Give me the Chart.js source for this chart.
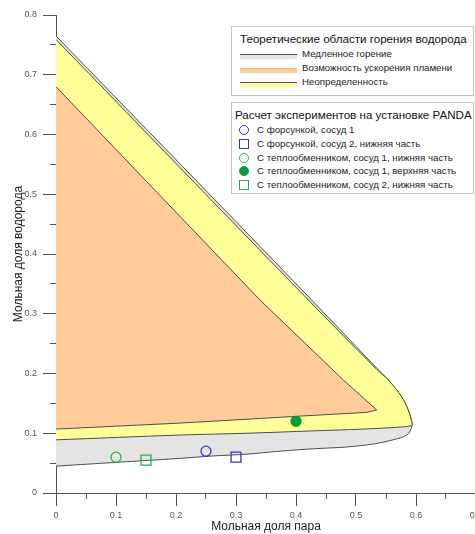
<!DOCTYPE html>
<html>
<head>
<meta charset="utf-8">
<script src="https://cdn.jsdelivr.net/npm/chart.js@4.4.1/dist/chart.umd.min.js"></script>
<style>
  html, body { margin: 0; padding: 0; background: #fff; }
  #wrap { position: relative; width: 475px; height: 534px; overflow: hidden; font-family: "Liberation Sans", Arial, sans-serif; }
  #plot { position: absolute; left: 0; top: 0; }
  .lg { position: absolute; left: 231px; width: 243px; background: #fff; border: 1px solid #c4c4c4; box-sizing: border-box; }
  #lg1 { top: 26px; height: 70px; }
  #lg2 { top: 102px; height: 92px; }
  .lg .t { position: absolute; white-space: nowrap; font-size: 11.6px; line-height: 14px; color: #111; }
  .lg .i { position: absolute; white-space: nowrap; font-size: 9.7px; line-height: 12px; color: #222; }
  .lg .sw { position: absolute; left: 8px; width: 57px; height: 5px; box-sizing: border-box; }
  .lg .mk { position: absolute; left: 7px; width: 10px; height: 10px; box-sizing: border-box; border: 1.3px solid; }
</style>
</head>
<body>
<div id="wrap">
  <canvas id="plot" width="480" height="534"></canvas>
  <div class="lg" id="lg1"></div>
  <div class="lg" id="lg2"></div>
</div>
<script>
// Outer boundary of the slow-burning zone (upper edge, round tip, lower edge)
const slowX = [0, 0.407, 0.5345, 0.554, 0.576, 0.587, 0.593, 0.592, 0.5845, 0.562, 0.529, 0.4845, 0.429, 0.373, 0.318, 0.262, 0.207, 0];
const slowY = [0.765, 0.343, 0.209, 0.189, 0.161, 0.139, 0.119, 0.108, 0.097, 0.089, 0.082, 0.077, 0.074, 0.070, 0.065, 0.062, 0.058, 0.045];

// Uncertainty band
const uncertX = [0, 0.407, 0.5345, 0.554, 0.576, 0.587, 0.593, 0.5925, 0.568, 0.512, 0.429, 0.318, 0.207, 0];
const uncertY = [0.759, 0.337, 0.207, 0.189, 0.161, 0.139, 0.119, 0.113, 0.110, 0.107, 0.104, 0.100, 0.097, 0.089];

// Flame acceleration zone
const accelX = [0, 0.157, 0.34, 0.479, 0.5345, 0.518, 0.395, 0.207, 0];
const accelY = [0.680, 0.515, 0.323, 0.189, 0.139, 0.135, 0.128, 0.117, 0.107];

const zoneTitle = 'Теоретические области горения водорода';
const zoneLabels = ['Медленное горение', 'Возможность ускорения пламени', 'Неопределенность'];

// PANDA experiment calculations
const expTitle = 'Расчет экспериментов на установке PANDA';
const expLabels = [
  'С форсункой, сосуд 1',
  'С форсункой, сосуд 2, нижняя часть',
  'С теплообменником, сосуд 1, нижняя часть',
  'С теплообменником, сосуд 1, верхняя часть',
  'С теплообменником, сосуд 2, нижняя часть'
];
const expSteam = [0.25, 0.30, 0.10, 0.40, 0.15];
const expH2 = [0.07, 0.06, 0.06, 0.12, 0.055];

const axisTitleX = 'Мольная доля пара';
const axisTitleY = 'Мольная доля водорода';

// ---- styles ----
const zoneFill = ['#e4e4e4', '#ffcc99', '#ffff99'];
const zoneEdge = '#4d4d4d';
const expStyle = [
  { shape: 'circle', r: 5, color: '#3434e6', filled: false },
  { shape: 'rect', r: 7, color: '#3434e6', filled: false },
  { shape: 'circle', r: 5, color: '#33b34f', filled: false },
  { shape: 'circle', r: 5, color: '#0c9a3a', filled: true },
  { shape: 'rect', r: 7, color: '#2aa84a', filled: false }
];

const toPts = (xs, ys) => xs.map((x, i) => ({ x, y: ys[i] }));

function zoneDataset(xs, ys, fill, order, tension) {
  return {
    data: toPts(xs, ys),
    showLine: true,
    fill: 'shape',
    backgroundColor: fill,
    borderColor: zoneEdge,
    borderWidth: 1,
    pointRadius: 0,
    pointHoverRadius: 0,
    tension,
    order
  };
}

const datasets = [
  zoneDataset(slowX, slowY, zoneFill[0], 3, 0.35),
  zoneDataset(uncertX, uncertY, zoneFill[2], 2, 0.35),
  zoneDataset(accelX, accelY, zoneFill[1], 1, 0)
];
expLabels.forEach((label, i) => {
  const s = expStyle[i];
  datasets.push({
    label,
    data: [{ x: expSteam[i], y: expH2[i] }],
    showLine: false,
    pointStyle: s.shape,
    pointRadius: s.r,
    pointHoverRadius: s.r,
    pointBorderWidth: 1.3,
    pointBorderColor: s.color,
    pointBackgroundColor: s.filled ? s.color : 'rgba(0,0,0,0)',
    order: 0
  });
});

const tickFont = { family: 'Liberation Sans', size: 9 };
const titleFont = { family: 'Liberation Sans', size: 12 };

new Chart(document.getElementById('plot'), {
  type: 'scatter',
  data: { datasets },
  options: {
    responsive: false,
    animation: false,
    devicePixelRatio: 1,
    events: [],
    layout: { autoPadding: false, padding: { left: 0, right: 4, top: 15, bottom: 0 } },
    plugins: { legend: { display: false }, tooltip: { enabled: false } },
    scales: {
      x: {
        type: 'linear', position: 'bottom', min: 0, max: 0.7,
        ticks: { stepSize: 0.1, font: tickFont, color: '#555', padding: 4, maxRotation: 0 },
        grid: { drawOnChartArea: false, drawTicks: true, tickLength: 13, tickColor: '#555' },
        border: { display: true, color: '#555', width: 1 },
        title: { display: true, text: axisTitleX, font: titleFont, color: '#222', padding: { top: 0, bottom: 0 } },
        afterFit(s) { s.height = 41; s.paddingLeft = 0; s.paddingRight = 0; }
      },
      y: {
        type: 'linear', position: 'left', min: 0, max: 0.8,
        ticks: { stepSize: 0.1, font: tickFont, color: '#555', padding: 6 },
        grid: { drawOnChartArea: false, drawTicks: true, tickLength: 13, tickColor: '#555' },
        border: { display: true, color: '#555', width: 1 },
        title: { display: true, text: axisTitleY, font: titleFont, color: '#222', padding: { top: 11, bottom: 0 } },
        afterFit(s) { s.width = 56; s.paddingTop = 0; s.paddingBottom = 0; }
      },
      xMinor: {
        type: 'linear', axis: 'x', position: { y: 0 }, min: 0, max: 0.7,
        ticks: { stepSize: 0.05, display: false },
        grid: { drawOnChartArea: false, drawTicks: true, tickLength: 6, tickColor: '#555' },
        border: { display: false }
      },
      yMinor: {
        type: 'linear', axis: 'y', position: { x: 0 }, min: 0, max: 0.8,
        ticks: { stepSize: 0.05, display: false },
        grid: { drawOnChartArea: false, drawTicks: true, tickLength: 6, tickColor: '#555' },
        border: { display: false }
      }
    }
  }
});

// ---- legends ----
function addEl(parent, cls, text, css) {
  const el = document.createElement('div');
  el.className = cls;
  if (text) el.textContent = text;
  Object.assign(el.style, css);
  parent.appendChild(el);
  return el;
}

const lg1 = document.getElementById('lg1');
addEl(lg1, 't', zoneTitle, { left: '8px', top: '5px' });
const swatchTop = [27, 40.5, 54.5];
const swatchText = [21, 35, 49];
const swatchStyle = [
  { background: zoneFill[0], borderTop: '1px solid #555' },
  { background: zoneFill[1], borderTop: '1px solid #f0b888' },
  { background: zoneFill[2], borderTop: '1px solid #555' }
];
zoneLabels.forEach((label, i) => {
  addEl(lg1, 'sw', '', Object.assign({ top: swatchTop[i] + 'px' }, swatchStyle[i]));
  addEl(lg1, 'i', label, { left: '70px', top: swatchText[i] + 'px' });
});

const lg2 = document.getElementById('lg2');
addEl(lg2, 't', expTitle, { left: '3px', top: '5px' });
const rowTop = [21, 34.5, 48.5, 62, 76];
expLabels.forEach((label, i) => {
  const s = expStyle[i];
  addEl(lg2, 'mk', '', {
    top: (rowTop[i] + 1) + 'px',
    borderColor: s.color,
    borderRadius: s.shape === 'circle' ? '50%' : '0',
    background: s.filled ? s.color : 'transparent'
  });
  addEl(lg2, 'i', label, { left: '25px', top: rowTop[i] + 'px' });
});
</script>
</body>
</html>
